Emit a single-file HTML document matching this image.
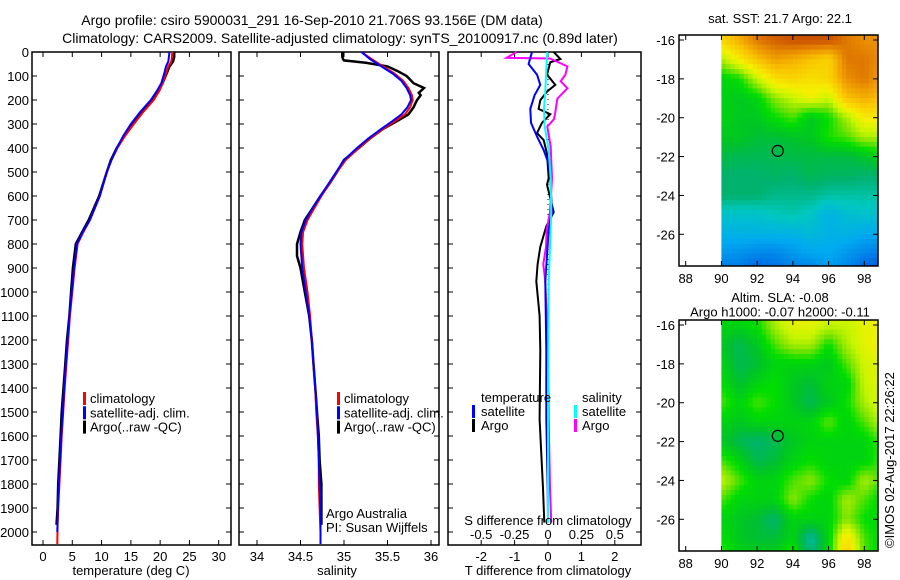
<!DOCTYPE html>
<html><head><meta charset="utf-8">
<style>
html,body{margin:0;padding:0;background:#fff;}
svg{display:block;font-family:"Liberation Sans",sans-serif;}
text{fill:#000;}
</style></head>
<body>
<svg id="c" width="900" height="580" viewBox="0 0 900 580" xmlns="http://www.w3.org/2000/svg">
<g id="titles" font-size="14" text-anchor="middle">
<text x="312" y="25">Argo profile: csiro 5900031_291 16-Sep-2010 21.706S 93.156E (DM data)</text>
<text x="340" y="43">Climatology: CARS2009. Satellite-adjusted climatology: synTS_20100917.nc (0.89d later)</text>
</g>
<g id="p1"></g>
<g id="p2"></g>
<g id="p3"></g>
<g id="m1"></g>
<g id="m2"></g>
<text transform="translate(894,548) rotate(-90)" font-size="13">©IMOS 02-Aug-2017 22:26:22</text>
</svg>
<script>
// ---- profile data ----
const depthTempArgo=[0,20,40,60,90,130,160,200,250,300,350,400,450,500,600,700,750,800,900,1000,1100,1200,1300,1400,1500,1600,1700,1800,1900,1970];
const tempArgo=[22.4,22.4,22.2,21.6,21.1,20.4,19.8,18.8,16.8,15.2,13.9,12.6,11.6,10.9,9.6,7.8,6.7,5.6,5.1,4.8,4.5,4.1,3.8,3.5,3.2,3.0,2.8,2.6,2.5,2.3];
const depthTempClim=[0,20,40,60,90,130,160,200,250,300,350,400,450,500,600,700,750,800,900,1000,1100,1200,1300,1400,1500,1600,1700,1800,1900,1970,2050];
const tempClim=[22.1,22.0,21.9,21.4,21.0,20.4,19.9,18.9,17.1,15.5,14.0,12.7,11.7,10.9,9.7,8.0,6.9,5.9,5.4,5.0,4.6,4.3,4.0,3.7,3.45,3.2,3.0,2.8,2.6,2.5,2.45];
const depthTempSat=[0,20,40,60,90,130,160,200,250,300,350,400,450,500,600,700,750,800,900,1000,1100,1200,1300,1400,1500,1600,1700,1800,1900,2000];
const tempSat=[21.6,21.5,21.4,21.0,20.7,20.2,19.5,18.4,16.6,15.0,13.7,12.6,11.7,10.9,9.7,8.0,6.8,5.8,5.3,4.9,4.5,4.2,3.9,3.6,3.4,3.1,2.9,2.7,2.55,2.45];

const depthSalArgo=[0,20,30,35,45,60,80,100,130,150,170,180,200,215,230,260,290,320,360,400,450,500,550,600,650,700,750,800,850,900,1000,1100,1200,1300,1400,1500,1600,1700,1800,1900,1970];
const salArgo=[34.98,34.98,34.99,35.0,35.25,35.5,35.62,35.72,35.8,35.92,35.86,35.88,35.84,35.82,35.8,35.74,35.6,35.45,35.3,35.17,35.0,34.92,34.83,34.73,34.64,34.55,34.5,34.46,34.46,34.5,34.55,34.6,34.63,34.65,34.67,34.69,34.71,34.72,34.74,34.74,34.74];
const depthSalClim=[0,30,60,90,120,150,180,200,230,260,290,320,360,400,450,500,550,600,650,700,750,800,900,1000,1100,1200,1300,1400,1500,1600,1700,1800,1900,2000,2050];
const salClim=[35.2,35.32,35.45,35.58,35.68,35.74,35.78,35.79,35.76,35.7,35.58,35.45,35.3,35.17,35.02,34.92,34.83,34.74,34.66,34.58,34.53,34.52,34.54,34.58,34.61,34.63,34.65,34.67,34.68,34.7,34.71,34.71,34.72,34.73,34.73];
const salSat=[35.2,35.3,35.43,35.56,35.66,35.72,35.76,35.77,35.73,35.66,35.55,35.43,35.28,35.15,35.0,34.91,34.82,34.73,34.64,34.56,34.51,34.5,34.52,34.56,34.6,34.63,34.65,34.67,34.69,34.7,34.71,34.72,34.73,34.73,34.73];

const depthTdiffArgo=[0,29,43,94,137,165,201,237,259,295,338,367,424,525,553,668,726,812,884,956,1099,1243,1530,1674,1818,1961];
const tdiffArgo=[0.17,0.37,0.07,-0.03,0.22,-0.03,-0.23,-0.28,0.07,-0.18,-0.33,-0.13,-0.03,0.02,-0.03,0.17,-0.05,-0.23,-0.31,-0.35,-0.25,-0.23,-0.25,-0.2,-0.15,-0.11];
const depthTdiffSat=[0,50,94,137,180,237,295,352,409,466,525,668,740,956,1243,1530,1818,1961];
const tdiffSat=[-0.48,-0.58,-0.33,-0.23,-0.4,-0.53,-0.51,-0.33,-0.13,0.02,0.07,0.12,0.02,-0.08,-0.05,-0.05,-0.01,0.0];
const depthSdiffArgo=[0,24,27,60,94,122,151,194,251,280,310,395,525,668,740,812,884,956,1243,1530,1818,1961];
const sdiffArgo=[-0.235,-0.31,0.015,0.145,0.13,0.095,0.145,0.07,0.055,0.045,-0.005,0.02,0.03,0.015,-0.01,-0.015,-0.035,-0.02,0.0,0.005,0.015,0.025];
const depthSdiffSat=[0,94,165,237,310,409,525,668,956,1387,1961];
const sdiffSat=[-0.005,-0.015,-0.02,-0.03,-0.025,0.005,0.02,0.025,0.005,0.0,0.0];

const depthTicks=[0,100,200,300,400,500,600,700,800,900,1000,1100,1200,1300,1400,1500,1600,1700,1800,1900,2000];
const tempTicks=[0,5,10,15,20,25,30];
const salTicks=[34,34.5,35,35.5,36];
const tdiffTicks=[-2,-1,0,1,2];
const sdiffTicks=[-0.5,-0.25,0,0.25,0.5];
const sdiffTickLabels=["-0.5","-0.25","0","0.25","0.5"];

// ---- map data (grid rows lat -16..-28, cols lon 90..99) ----
const mapLats=[-16,-17,-18,-19,-20,-21,-22,-23,-24,-25,-26,-27,-28];
const mapLons=[90,91,92,93,94,95,96,97,98,99];
const sstGrid=[
[0.72,0.78,0.85,0.88,0.9,0.9,0.9,0.85,0.82,0.82],
[0.6,0.68,0.75,0.8,0.78,0.75,0.72,0.85,0.85,0.82],
[0.5,0.52,0.62,0.7,0.72,0.7,0.72,0.82,0.85,0.8],
[0.5,0.48,0.5,0.58,0.62,0.66,0.62,0.75,0.78,0.75],
[0.5,0.48,0.48,0.52,0.55,0.48,0.52,0.6,0.68,0.68],
[0.48,0.48,0.46,0.46,0.47,0.48,0.53,0.55,0.6,0.6],
[0.45,0.44,0.44,0.44,0.45,0.45,0.45,0.45,0.47,0.5],
[0.42,0.42,0.42,0.43,0.42,0.44,0.43,0.43,0.42,0.42],
[0.42,0.42,0.42,0.4,0.4,0.4,0.38,0.38,0.38,0.38],
[0.34,0.34,0.34,0.36,0.37,0.35,0.3,0.33,0.34,0.33],
[0.3,0.3,0.3,0.3,0.3,0.32,0.3,0.3,0.28,0.28],
[0.25,0.24,0.22,0.22,0.25,0.27,0.28,0.25,0.22,0.2],
[0.18,0.2,0.15,0.18,0.2,0.2,0.25,0.22,0.15,0.12]];
const slaGrid=[
[0.5,0.5,0.52,0.6,0.65,0.65,0.62,0.62,0.65,0.67],
[0.48,0.44,0.48,0.55,0.6,0.6,0.52,0.6,0.65,0.67],
[0.5,0.44,0.46,0.5,0.5,0.5,0.48,0.55,0.63,0.65],
[0.52,0.46,0.5,0.52,0.48,0.46,0.5,0.5,0.62,0.65],
[0.55,0.5,0.55,0.52,0.48,0.44,0.48,0.52,0.6,0.65],
[0.5,0.48,0.5,0.5,0.5,0.5,0.56,0.5,0.55,0.62],
[0.48,0.44,0.42,0.44,0.48,0.5,0.5,0.5,0.5,0.55],
[0.55,0.5,0.44,0.46,0.5,0.52,0.5,0.5,0.5,0.55],
[0.62,0.55,0.5,0.5,0.55,0.58,0.52,0.5,0.6,0.55],
[0.55,0.5,0.5,0.5,0.58,0.52,0.5,0.6,0.55,0.5],
[0.5,0.48,0.46,0.42,0.5,0.5,0.5,0.58,0.52,0.5],
[0.52,0.48,0.46,0.46,0.5,0.38,0.5,0.7,0.55,0.5],
[0.55,0.5,0.5,0.5,0.55,0.42,0.5,0.75,0.55,0.5]];
const argoLon=93.156, argoLat=-21.706;
const mapXTicks=[88,90,92,94,96,98];
const mapYTicks=[-16,-18,-20,-22,-24,-26];

const NS="http://www.w3.org/2000/svg";
function mk(tag,attrs,parent){const e=document.createElementNS(NS,tag);for(const k in attrs)e.setAttribute(k,attrs[k]);parent.appendChild(e);return e;}
const yD=d=>52+d*0.24;
const xT=t=>43+t*5.857;
const xS=s=>257+(s-34)*87;
const xTd=t=>548+t*33.4;
const xSd=s=>548+s*133.6;

function frame(g,x0,x1,y0,y1){
  const r=mk('rect',{x:x0,y:y0,width:x1-x0,height:y1-y0,fill:'none',stroke:'#000','stroke-width':1.5},g);
  
  
}
function line(g,xs,ds,fx,color,name,w){
  const pts=xs.map((v,i)=>fx(v).toFixed(1)+','+yD(ds[i]).toFixed(1)).join(' ');
  const p=mk('polyline',{points:pts,fill:'none',stroke:color,'stroke-width':w||2,'stroke-linejoin':'miter'},g);
  
  
}
function depthAxis(g,x0,x1,labels){
  depthTicks.forEach(d=>{
    mk('line',{x1:x0,y1:yD(d),x2:x0+5,y2:yD(d),stroke:'#000'},g);
    mk('line',{x1:x1,y1:yD(d),x2:x1-5,y2:yD(d),stroke:'#000'},g);
    if(labels){const t=mk('text',{x:x0-3,y:yD(d)+5,'font-size':13,'text-anchor':'end'},g);t.textContent=d;
      
      }
  });
}
function xAxis(g,ticks,fx,labels,y0,y1,ly){
  ticks.forEach((v,i)=>{
    mk('line',{x1:fx(v),y1:y1,x2:fx(v),y2:y1-5,stroke:'#000'},g);
    mk('line',{x1:fx(v),y1:y0,x2:fx(v),y2:y0+5,stroke:'#000'},g);
    const t=mk('text',{x:fx(v),y:ly,'font-size':13,'text-anchor':'middle'},g);t.textContent=labels?labels[i]:v;
    
    
  });
}
function txt(g,x,y,s,name,anchor){const t=mk('text',{x:x,y:y,'font-size':13,'text-anchor':anchor||'start'},g);t.textContent=s;
  
  return t;}
function legendMark(g,x,y,color){const r=mk('rect',{x:x,y:y-11,width:3,height:13,fill:color},g);
  
  }

const Y0=52,Y1=545;
// Panel 1
const p1=document.getElementById('p1');
frame(p1,32,231,Y0,Y1);depthAxis(p1,32,231,true);
xAxis(p1,tempTicks,xT,null,Y0,Y1,561);
line(p1,tempArgo,depthTempArgo,xT,'#000','temp-argo-line',2.5);
line(p1,tempClim,depthTempClim,xT,'#f00','temp-climatology-line');
line(p1,tempSat,depthTempSat,xT,'#0000ff','temp-satellite-line');
txt(p1,131,575,'temperature (deg C)','x-axis-title','middle');
[['#f00','climatology'],['#00f','satellite-adj. clim.'],['#000','Argo(..raw -QC)']].forEach((e,i)=>{legendMark(p1,83,403+i*14.3,e[0]);txt(p1,90,403+i*14.3,e[1],'legend-entry');});
// Panel 2
const p2=document.getElementById('p2');
frame(p2,239,439,Y0,Y1);depthAxis(p2,239,439,false);
xAxis(p2,salTicks,xS,null,Y0,Y1,561);
line(p2,salArgo,depthSalArgo,xS,'#000','sal-argo-line',2.5);
line(p2,salClim,depthSalClim,xS,'#f00','sal-climatology-line');
line(p2,salSat,depthSalClim,xS,'#0000ff','sal-satellite-line');
txt(p2,337,575,'salinity','x-axis-title','middle');
[['#f00','climatology'],['#00f','satellite-adj. clim.'],['#000','Argo(..raw -QC)']].forEach((e,i)=>{legendMark(p2,337,403+i*14.3,e[0]);txt(p2,344,403+i*14.3,e[1],'legend-entry');});
txt(p2,326,518,'Argo Australia','credit-text');
txt(p2,326,532,'PI: Susan Wijffels','credit-text');
// Panel 3
const p3=document.getElementById('p3');
frame(p3,448,641,Y0,Y1);depthAxis(p3,448,641,false);
xAxis(p3,tdiffTicks,xTd,null,Y0,Y1,561);
mk('line',{x1:548,y1:yD(50),x2:548,y2:yD(1600),stroke:'#000','stroke-dasharray':'1,4'},p3);
line(p3,tdiffArgo,depthTdiffArgo,xTd,'#000','tdiff-argo-line');
line(p3,sdiffArgo,depthSdiffArgo,xSd,'#ff00ff','sdiff-argo-line');
line(p3,tdiffSat,depthTdiffSat,xTd,'#0000ff','tdiff-satellite-line');
line(p3,sdiffSat,depthSdiffSat,xSd,'#00ffff','sdiff-satellite-line');
sdiffTicks.forEach((v,i)=>{txt(p3,xSd(v),539,sdiffTickLabels[i],'s-tick-label','middle');});
txt(p3,548,525,'S difference from climatology','s-axis-title','middle');
txt(p3,548,575,'T difference from climatology','x-axis-title','middle');
txt(p3,481,402,'temperature','legend-title');
txt(p3,582,402,'salinity','legend-title');
legendMark(p3,472,416,'#00f');txt(p3,481,416,'satellite','legend-entry');
legendMark(p3,472,430,'#000');txt(p3,481,430,'Argo','legend-entry');
legendMark(p3,574,416,'#00ffff');txt(p3,582,416,'satellite','legend-entry');
legendMark(p3,574,430,'#ff00ff');txt(p3,582,430,'Argo','legend-entry');

// ---- maps ----
const stops=[[0,[0,24,150]],[0.15,[0,90,225]],[0.28,[0,170,240]],[0.36,[0,200,190]],[0.42,[0,178,110]],[0.47,[0,195,40]],[0.52,[0,222,0]],[0.57,[120,228,0]],[0.62,[200,245,0]],[0.67,[245,240,0]],[0.75,[250,195,0]],[0.82,[235,145,0]],[0.88,[210,95,0]],[0.95,[180,50,0]],[1,[150,20,0]]];
function cmap(v){v=Math.max(0,Math.min(1,v));for(let i=1;i<stops.length;i++){if(v<=stops[i][0]){const a=stops[i-1],b=stops[i],f=(v-a[0])/(b[0]-a[0]);const c=a[1].map((x,k)=>Math.round(x+(b[1][k]-x)*f));return 'rgb('+c.join(',')+')';}}return 'rgb(150,20,0)';}
function sample(grid,lon,lat){
  let c=Math.max(0,Math.min(8.999,lon-90)),r=Math.max(0,Math.min(11.999,-16-lat));
  const c0=Math.floor(c),r0=Math.floor(r),fc=c-c0,fr=r-r0;
  return grid[r0][c0]*(1-fc)*(1-fr)+grid[r0][c0+1]*fc*(1-fr)+grid[r0+1][c0]*(1-fc)*fr+grid[r0+1][c0+1]*fc*fr;
}
function drawMap(id,grid,top,title,titleY){
  const g=document.getElementById(id);
  const yTop=top, yBot=top+231, xL=679, xR=878;
  const fx=lon=>685.7+(lon-88)*17.86;
  const fy=lat=>top+5+(-16-lat)*19.43;
  const latTop=-16+(5/19.43), latBot=-16-(yBot-top-5)/19.43;
  const step=0.25;
  for(let lat=latTop;lat>latBot;lat-=step){
    for(let lon=90;lon<98.9;lon+=step){
      const x=fx(lon),y=fy(lat);
      const r=mk('rect',{x:x.toFixed(1),y:y.toFixed(1),width:(step*17.86+0.6).toFixed(1),height:(Math.min(step*19.43,yBot-y)+0.6).toFixed(1),fill:cmap(sample(grid,lon+step/2,lat-step/2))},g);
      
      
    }
  }
  mk('rect',{x:xR,y:yTop-2,width:20,height:yBot-yTop+4,fill:'#fff'},g);
  mk('rect',{x:xL,y:yBot,width:200,height:8,fill:'#fff'},g);
  const f=mk('rect',{x:xL,y:yTop,width:xR-xL,height:yBot-yTop,fill:'none',stroke:'#000','stroke-width':1.5},g);
  
  
  mapXTicks.forEach(v=>{mk('line',{x1:fx(v),y1:yBot,x2:fx(v),y2:yBot-5,stroke:'#000'},g);mk('line',{x1:fx(v),y1:yTop,x2:fx(v),y2:yTop+5,stroke:'#000'},g);
    txt(g,fx(v),yBot+17,String(v),'map-lon-label','middle');});
  mapYTicks.forEach(v=>{mk('line',{x1:xL,y1:fy(v),x2:xL+5,y2:fy(v),stroke:'#000'},g);mk('line',{x1:xR,y1:fy(v),x2:xR-5,y2:fy(v),stroke:'#000'},g);
    txt(g,xL-4,fy(v)+5,String(v),'map-lat-label','end');});
  const c=mk('circle',{cx:fx(argoLon),cy:fy(argoLat),r:5.5,fill:'none',stroke:'#000','stroke-width':1.2},g);
  
  
  title.forEach((s,i)=>txt(g,780,titleY+i*14.5,s,'map-title','middle'));
}
drawMap('m1',sstGrid,35,['sat. SST: 21.7 Argo: 22.1'],23);
drawMap('m2',slaGrid,320,['Altim. SLA: -0.08','Argo h1000: -0.07 h2000: -0.11'],302);
</script>
</body></html>
